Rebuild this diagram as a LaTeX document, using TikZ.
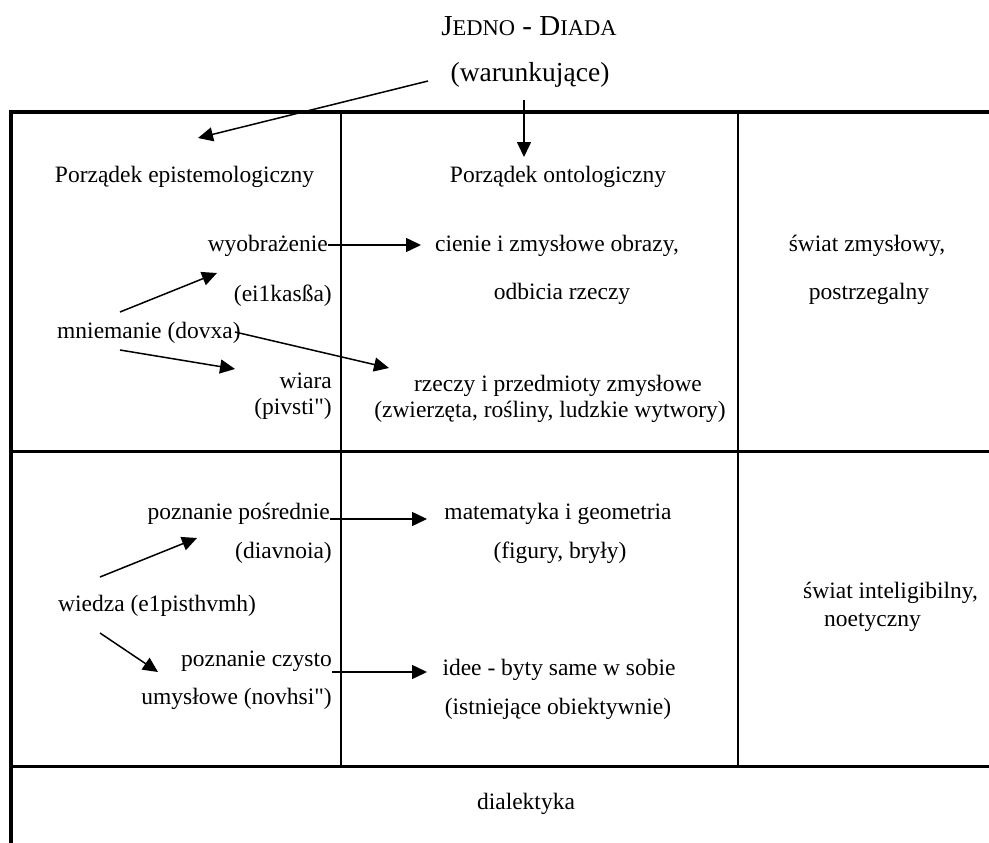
\documentclass[tikz,border=0pt]{standalone}
\usepackage{fontspec}
\setmainfont{Liberation Serif}
\usetikzlibrary{arrows.meta}
\begin{document}
\begin{tikzpicture}[x=1pt,y=-1pt,
  txt/.style={inner sep=0pt, font=\fontsize{23.5}{28}\selectfont, text height=17pt, text depth=5pt},
  arr/.style={line width=1.5pt, -{Triangle[length=15pt,width=14pt]}},
  heavyrule/.style={line width=4pt},
  midrule/.style={line width=3pt},
  lightrule/.style={line width=2pt}]
\useasboundingbox (0,0) rectangle (989,843);

% frame
\draw[heavyrule] (8.5,112) -- (989,112);
\draw[heavyrule] (10.5,110) -- (10.5,843);
\draw[midrule] (10.5,451) -- (989,451);
\draw[midrule] (10.5,766) -- (989,766);
\draw[lightrule] (341,112) -- (341,766);
\draw[lightrule] (738,112) -- (738,766);

% title
\node[anchor=base, inner sep=0pt] (title) at (529,36)
  {\fontsize{29}{34}\selectfont J\fontsize{22.5}{26}\selectfont EDNO\fontsize{29}{34}\selectfont{} - D\fontsize{22.5}{26}\selectfont IADA};
\node[anchor=base, inner sep=0pt, font=\fontsize{27.5}{32}\selectfont] (war) at (530,82) {(warunkujące)};

% headers
\node[txt, anchor=base] (pe) at (184.5,182) {Porządek epistemologiczny};
\node[txt, anchor=base] (po) at (558,182) {Porządek ontologiczny};

% upper row
\node[txt, anchor=base east] (wyo) at (328,251) {wyobrażenie};
\node[txt, anchor=base east] (ei) at (332,301) {(ei1kasßa)};
\node[txt, anchor=base] (cie) at (557,251) {cienie i zmysłowe obrazy,};
\node[txt, anchor=base] (odb) at (562,299) {odbicia rzeczy};
\node[txt, anchor=base] (swz) at (867,251) {świat zmysłowy,};
\node[txt, anchor=base] (pos) at (869,299) {postrzegalny};
\node[txt, anchor=base west] (mn) at (57,338) {mniemanie (dovxa)};
\node[txt, anchor=base east] (wia) at (332,388) {wiara};
\node[txt, anchor=base east] (piv) at (332,414) {(pivsti\textquotedbl)};
\node[txt, anchor=base] (rz) at (558,391) {rzeczy i przedmioty zmysłowe};
\node[txt, anchor=base] (zw) at (550,417) {(zwierzęta, rośliny, ludzkie wytwory)};

% lower row
\node[txt, anchor=base east] (pp) at (330,519) {poznanie pośrednie};
\node[txt, anchor=base east] (dia) at (332,558) {(diavnoia)};
\node[txt, anchor=base] (mat) at (558,519) {matematyka i geometria};
\node[txt, anchor=base] (fig) at (560,558) {(figury, bryły)};
\node[txt, anchor=base west] (wie) at (58,611) {wiedza (e1pisthvmh)};
\node[txt, anchor=base east] (pc) at (332,666) {poznanie czysto};
\node[txt, anchor=base east] (um) at (332,704) {umysłowe (novhsi\textquotedbl)};
\node[txt, anchor=base] (ide) at (559,675) {idee - byty same w sobie};
\node[txt, anchor=base] (ist) at (558,714) {(istniejące obiektywnie)};
\node[txt, anchor=base west] (swi) at (803,598) {świat inteligibilny,};
\node[txt, anchor=base west] (noe) at (824,626) {noetyczny};

\node[txt, anchor=base] (dial) at (526,809) {dialektyka};

% arrow end points
\coordinate (a1s) at (428,81);  \coordinate (a1e) at (198,138);
\coordinate (a2s) at (524,100); \coordinate (a2e) at (524,157);
\coordinate (a3s) at (328,245); \coordinate (a3e) at (421,245);
\coordinate (a4s) at (120,312); \coordinate (a4e) at (217,273);
\coordinate (a5s) at (120,350); \coordinate (a5e) at (235,369);
\coordinate (a6s) at (235,332); \coordinate (a6e) at (389,368);
\coordinate (a7s) at (330,519); \coordinate (a7e) at (427,519);
\coordinate (a8s) at (100,577); \coordinate (a8e) at (197,538);
\coordinate (a9s) at (100,633); \coordinate (a9e) at (158,672);
\coordinate (a10s) at (332,672); \coordinate (a10e) at (427,672);

\draw[arr] (a1s) -- (a1e);
\draw[arr] (a2s) -- (a2e);
\draw[arr] (a3s) -- (a3e);
\draw[arr] (a4s) -- (a4e);
\draw[arr] (a5s) -- (a5e);
\draw[arr] (a6s) -- (a6e);
\draw[arr] (a7s) -- (a7e);
\draw[arr] (a8s) -- (a8e);
\draw[arr] (a9s) -- (a9e);
\draw[arr] (a10s) -- (a10e);
\end{tikzpicture}
\end{document}
